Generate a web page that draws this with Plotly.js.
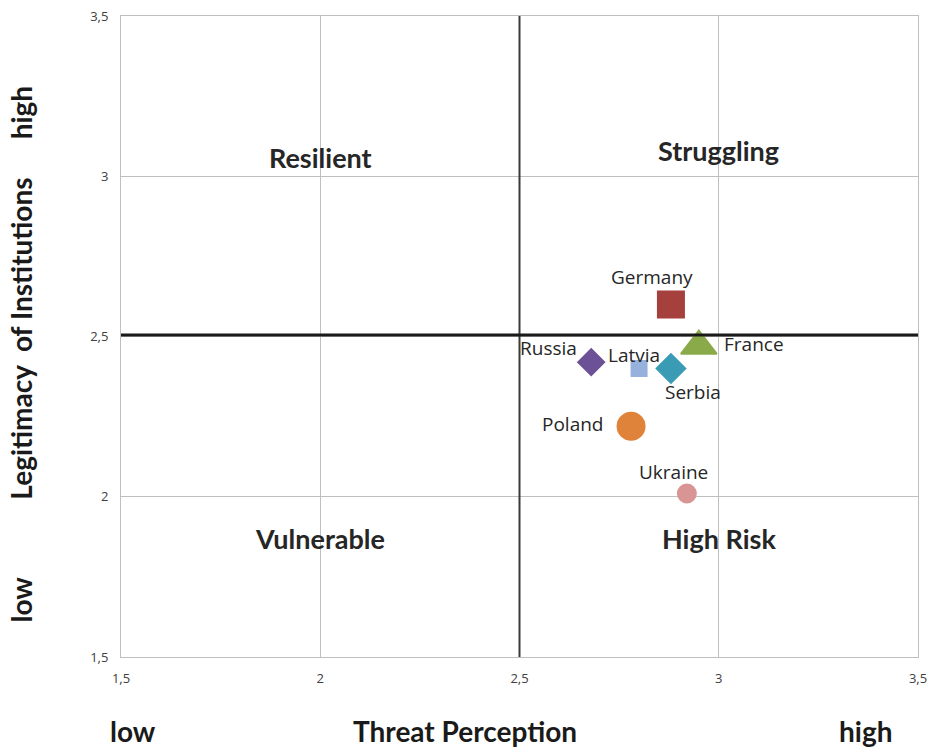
<!DOCTYPE html>
<html><head><meta charset="utf-8">
<script src="https://cdn.plot.ly/plotly-3.0.1.min.js"></script>
<style>body{margin:0;background:#fff}#chart{width:931px;height:747px}</style>
</head><body><div id="chart"></div>
<script>
const countries = ["Germany","France","Russia","Latvia","Serbia","Poland","Ukraine"];
const threat =     [2.88, 2.95, 2.68, 2.80, 2.88, 2.78, 2.92];
const legitimacy = [2.60, 2.47, 2.42, 2.40, 2.40, 2.22, 2.01];
const colors = ["#A5403D","#8AAA4A","#6C5196","#95B1DC","#3A9BB5","#E0833A","#D99594"];
const symbols = ["square","triangle-up","diamond","square","diamond","circle","circle"];
const sizes = [26, 31, 20, 15, 22, 27, 18];
// label placement relative to each marker (pixels)
const labelAnchor = ["center","left","right","center","center","right","center"];
const labelDx = [-19, 23, -12, -5, 22, -25, -13];
const labelDy = [27, 2, 14, 14, -23, 2, 22];
const tickVals = [1.5, 2, 2.5, 3, 3.5];
const tickText = ["1,5","2","2,5","3","3,5"];
const quadrants = ["Resilient","Struggling","Vulnerable","High Risk"];
const quadX = [2.0, 3.0, 2.0, 3.0];
const quadY = [3.06, 3.08, 1.87, 1.87];
const midpoint = 2.5;

const traces = countries.map((c,i)=>({
  x:[threat[i]], y:[legitimacy[i]], mode:"markers", type:"scatter", name:c,
  marker:{symbol:symbols[i], size:sizes[i], color:colors[i], line:{color:colors[i], width:2}},
  showlegend:false, hoverinfo:"skip", cliponaxis:false
}));

const ann = countries.map((c,i)=>({
  x:threat[i], y:legitimacy[i], xref:"x", yref:"y", text:c, showarrow:false,
  xanchor:labelAnchor[i], yanchor:"middle", xshift:labelDx[i], yshift:labelDy[i],
  font:{family:"Open Sans, sans-serif", size:19, color:"#262626"}
}));
quadrants.forEach((q,i)=>ann.push({
  x:quadX[i], y:quadY[i], xref:"x", yref:"y", text:"<b>"+q+"</b>", showarrow:false,
  font:{family:"Lato, sans-serif", size:27, color:"#262626"}
}));
const bold = {family:"Lato, sans-serif", size:28, color:"#1a1a1a"};
ann.push({xref:"paper", yref:"paper", x:0.015, y:-0.115, xanchor:"center", yanchor:"middle", text:"<b>low</b>", showarrow:false, font:bold});
ann.push({xref:"paper", yref:"paper", x:0.432, y:-0.115, xanchor:"center", yanchor:"middle", text:"<b>Threat Perception</b>", showarrow:false, font:bold});
ann.push({xref:"paper", yref:"paper", x:0.934, y:-0.115, xanchor:"center", yanchor:"middle", text:"<b>high</b>", showarrow:false, font:bold});
ann.push({xref:"paper", yref:"paper", x:-0.126, y:0.849, xanchor:"center", yanchor:"middle", textangle:-90, text:"<b>high</b>", showarrow:false, font:bold});
ann.push({xref:"paper", yref:"paper", x:-0.126, y:0.496, xanchor:"center", yanchor:"middle", textangle:-90, text:"<b>Legitimacy  of Institutions</b>", showarrow:false, font:bold});
ann.push({xref:"paper", yref:"paper", x:-0.126, y:0.089, xanchor:"center", yanchor:"middle", textangle:-90, text:"<b>low</b>", showarrow:false, font:bold});

const layout = {
  width:931, height:747,
  margin:{l:121, r:13, t:16, b:90},
  paper_bgcolor:"#fff", plot_bgcolor:"#fff",
  xaxis:{range:[1.5,3.5], tickvals:tickVals, ticktext:tickText, showgrid:true, gridcolor:"#BFBFBF", gridwidth:1,
    zeroline:false, showline:true, linecolor:"#BFBFBF", mirror:true, ticks:"outside", ticklen:9, tickcolor:"rgba(0,0,0,0)",
    tickfont:{family:"Open Sans, sans-serif", size:13, color:"#404040"}, fixedrange:true},
  yaxis:{range:[1.5,3.5], tickvals:tickVals, ticktext:tickText, showgrid:true, gridcolor:"#BFBFBF", gridwidth:1,
    zeroline:false, showline:true, linecolor:"#BFBFBF", mirror:true, ticks:"outside", ticklen:9, tickcolor:"rgba(0,0,0,0)",
    tickfont:{family:"Open Sans, sans-serif", size:13, color:"#404040"}, fixedrange:true},
  shapes:[
    {type:"line", xref:"x", yref:"paper", x0:midpoint, x1:midpoint, y0:0, y1:1, line:{color:"#3a3a3a", width:2}},
    {type:"line", xref:"paper", yref:"y", x0:0, x1:1, y0:midpoint+0.005, y1:midpoint+0.005, line:{color:"#1a1a1a", width:3}}
  ],
  annotations:ann
};
Plotly.newPlot("chart", traces, layout, {displayModeBar:false, staticPlot:true});
</script></body></html>
